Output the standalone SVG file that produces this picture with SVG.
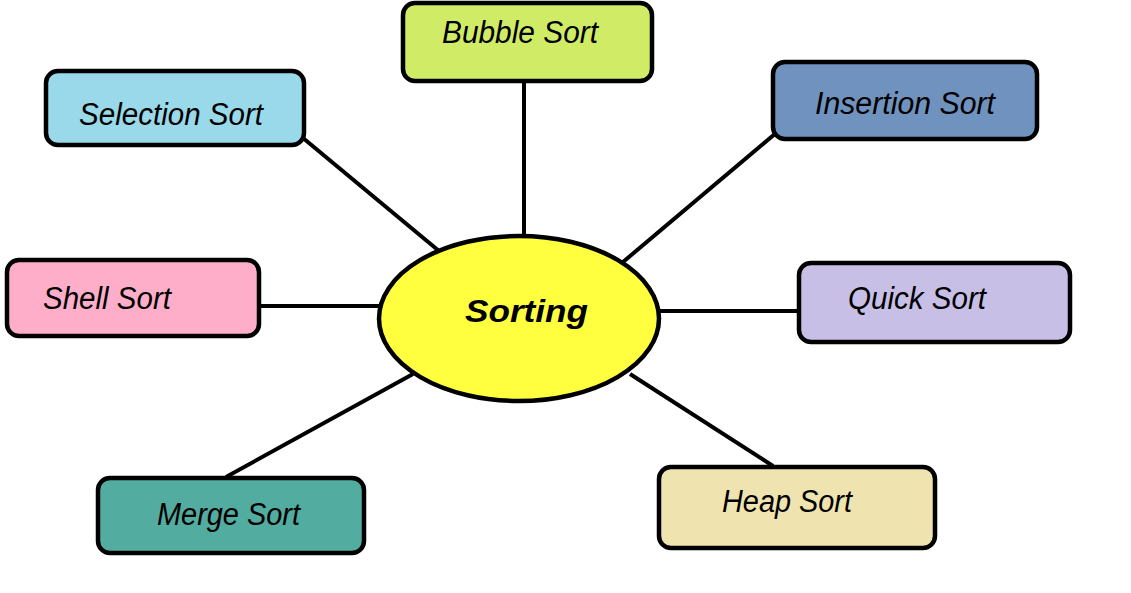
<svg xmlns="http://www.w3.org/2000/svg" width="1131" height="593" viewBox="0 0 1131 593">
<style>
.box{stroke:#000;stroke-width:4.5}
.lbl{font-family:"Liberation Sans",Arial,sans-serif;font-style:italic;font-size:31px;fill:#000}
.conn line{stroke:#000;stroke-width:4}
</style>
<rect width="1131" height="593" fill="#fff"/>
<g class="conn">
<line x1="524" y1="82" x2="524" y2="236"/>
<line x1="303" y1="138" x2="439" y2="251"/>
<line x1="776" y1="133" x2="623" y2="262"/>
<line x1="260" y1="306" x2="379" y2="306"/>
<line x1="659" y1="311" x2="805" y2="311"/>
<line x1="226" y1="477" x2="413" y2="374"/>
<line x1="773" y1="466" x2="630" y2="374"/>
</g>
<g id="sorting">
<ellipse class="box" cx="519" cy="318.5" rx="140" ry="82.5" fill="#ffff40"/>
<text class="lbl" x="465" y="322" font-weight="bold" font-size="31" textLength="123" lengthAdjust="spacingAndGlyphs">Sorting</text>
</g>
<g id="bubble">
<rect class="box" x="403" y="3" width="249" height="78" rx="12" fill="#d0ec66"/>
<text class="lbl" x="442" y="43" textLength="156" lengthAdjust="spacingAndGlyphs">Bubble Sort</text>
</g>
<g id="selection">
<rect class="box" x="46" y="71" width="258" height="74" rx="12" fill="#99d9ea"/>
<text class="lbl" x="79" y="125" textLength="184" lengthAdjust="spacingAndGlyphs">Selection Sort</text>
</g>
<g id="insertion">
<rect class="box" x="773" y="62" width="264" height="77" rx="12" fill="#7092be"/>
<text class="lbl" x="815" y="114" textLength="180" lengthAdjust="spacingAndGlyphs">Insertion Sort</text>
</g>
<g id="shell">
<rect class="box" x="7" y="260" width="252" height="76" rx="12" fill="#ffaec9"/>
<text class="lbl" x="43" y="309" textLength="128" lengthAdjust="spacingAndGlyphs">Shell Sort</text>
</g>
<g id="quick">
<rect class="box" x="799" y="263" width="271" height="79" rx="12" fill="#c8bfe7"/>
<text class="lbl" x="848" y="309" textLength="138" lengthAdjust="spacingAndGlyphs">Quick Sort</text>
</g>
<g id="merge">
<rect class="box" x="98" y="478" width="266" height="75" rx="12" fill="#52aca0"/>
<text class="lbl" x="157" y="525" textLength="143" lengthAdjust="spacingAndGlyphs">Merge Sort</text>
</g>
<g id="heap">
<rect class="box" x="659" y="467" width="276" height="81" rx="12" fill="#efe4b0"/>
<text class="lbl" x="722" y="512" textLength="130" lengthAdjust="spacingAndGlyphs">Heap Sort</text>
</g>
</svg>
